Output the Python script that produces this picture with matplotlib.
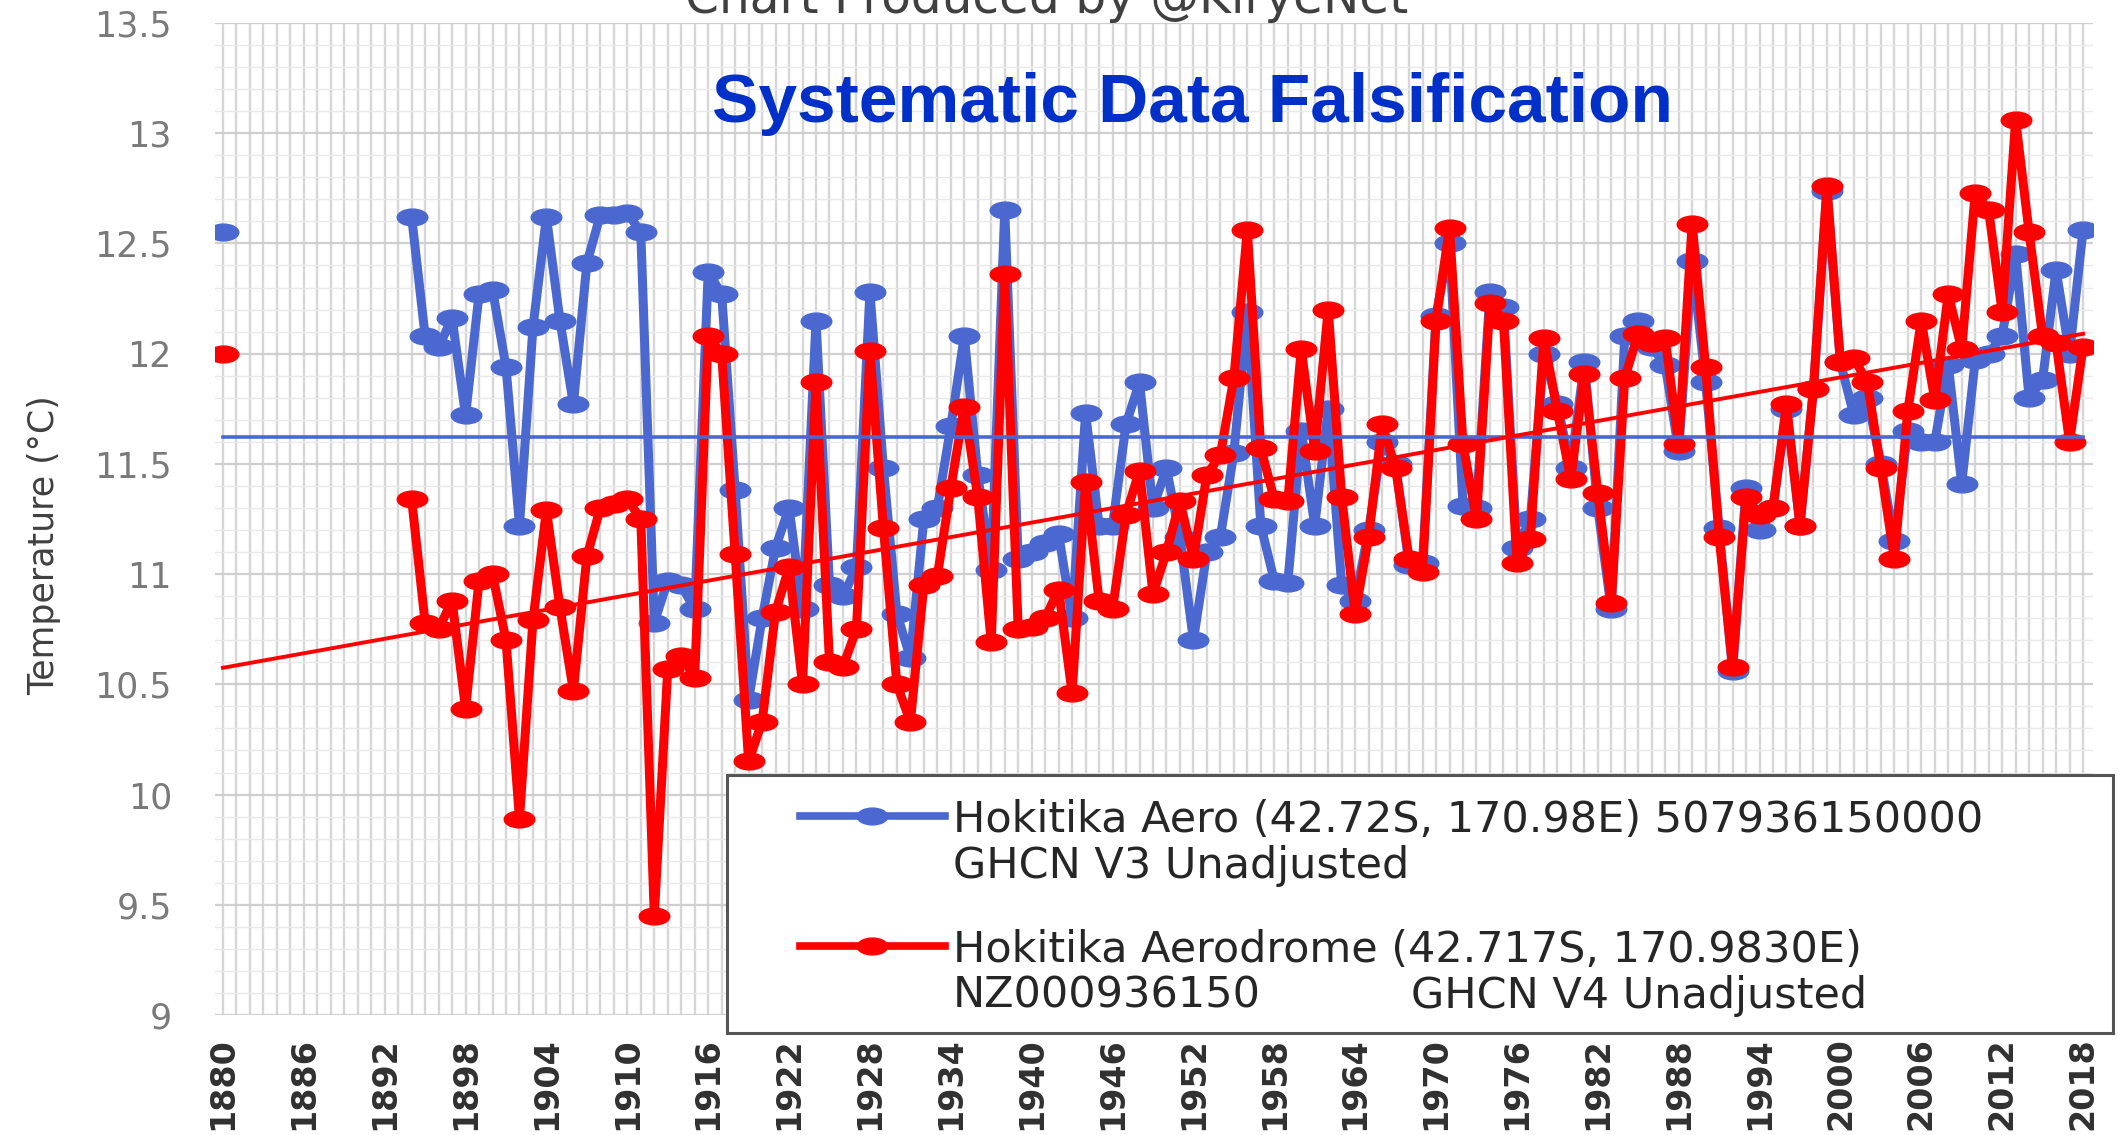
import numpy as np
import matplotlib
matplotlib.use("Agg")
import matplotlib.pyplot as plt
from matplotlib.path import Path
from matplotlib.transforms import Affine2D
from matplotlib.lines import Line2D
from matplotlib.patches import Rectangle
from matplotlib.ticker import FixedLocator, MultipleLocator

# ---------------- data ----------------
first_year = 1880
series_start = 1894
last_year = 2018

v3_1880 = 12.55
v4_1880 = 12.00

v3_values = [  # 1894-2018, GHCN V3 unadjusted
    12.62, 12.08, 12.03, 12.16, 11.72, 12.27, 12.29, 11.94, 11.22, 12.12,
    12.62, 12.15, 11.77, 12.41, 12.63, 12.63, 12.64, 12.55, 10.78, 10.97,
    10.95, 10.84, 12.37, 12.27, 11.38, 10.43, 10.80, 11.12, 11.30, 10.84,
    12.15, 10.95, 10.90, 11.03, 12.28, 11.48, 10.82, 10.62, 11.25, 11.30,
    11.67, 12.08, 11.45, 11.02, 12.65, 11.07, 11.10, 11.14, 11.18, 10.80,
    11.73, 11.22, 11.22, 11.68, 11.87, 11.30, 11.48, 11.17, 10.70, 11.10,
    11.17, 11.55, 12.19, 11.22, 10.97, 10.96, 11.65, 11.22, 11.75, 10.95,
    10.88, 11.20, 11.60, 11.50, 11.04, 11.05, 12.17, 12.50, 11.31, 11.30,
    12.28, 12.21, 11.12, 11.25, 12.00, 11.77, 11.48, 11.96, 11.30, 10.84,
    12.08, 12.15, 12.03, 11.95, 11.56, 12.42, 11.87, 11.21, 10.56, 11.39,
    11.20, 11.30, 11.75, 11.22, 11.84, 12.74, 11.96, 11.72, 11.80, 11.50,
    11.15, 11.65, 11.60, 11.60, 11.95, 11.41, 11.97, 12.00, 12.08, 12.45,
    11.80, 11.88, 12.38, 12.00, 12.56,
]

v4_values = [  # 1894-2018, GHCN V4 unadjusted
    11.34, 10.78, 10.75, 10.88, 10.39, 10.97, 11.00, 10.70, 9.89, 10.79,
    11.29, 10.85, 10.47, 11.08, 11.30, 11.32, 11.34, 11.25, 9.45, 10.57,
    10.63, 10.53, 12.08, 12.00, 11.09, 10.15, 10.33, 10.83, 11.03, 10.50,
    11.87, 10.60, 10.58, 10.75, 12.01, 11.21, 10.50, 10.33, 10.95, 10.99,
    11.39, 11.76, 11.35, 10.69, 12.36, 10.75, 10.76, 10.80, 10.93, 10.46,
    11.42, 10.88, 10.84, 11.27, 11.47, 10.91, 11.10, 11.33, 11.07, 11.45,
    11.54, 11.89, 12.56, 11.57, 11.34, 11.33, 12.02, 11.56, 12.20, 11.35,
    10.82, 11.17, 11.68, 11.48, 11.07, 11.01, 12.15, 12.57, 11.59, 11.25,
    12.23, 12.15, 11.05, 11.16, 12.07, 11.74, 11.43, 11.91, 11.37, 10.87,
    11.89, 12.09, 12.05, 12.07, 11.59, 12.59, 11.94, 11.17, 10.58, 11.35,
    11.27, 11.30, 11.77, 11.22, 11.84, 12.76, 11.96, 11.98, 11.87, 11.48,
    11.07, 11.74, 12.15, 11.79, 12.27, 12.02, 12.73, 12.65, 12.19, 13.06,
    12.55, 12.08, 12.05, 11.60, 12.03,
]

v3_mean = 11.62
v4_trend_ends = [10.575, 12.09]   # trend value at 1880 and 2018

x_tick_years = list(range(1880, 2019, 6))
y_tick_values = [9, 9.5, 10, 10.5, 11, 11.5, 12, 12.5, 13, 13.5]
y_tick_labels = ["9", "9.5", "10", "10.5", "11", "11.5", "12", "12.5", "13", "13.5"]

label_v3 = ["Hokitika Aero (42.72S, 170.98E) 507936150000", "GHCN V3 Unadjusted"]
label_v4 = ["Hokitika Aerodrome (42.717S, 170.9830E)", "NZ000936150", "GHCN V4 Unadjusted"]

# ---------------- build arrays ----------------
years = np.arange(first_year, last_year + 1)
gap = np.full(series_start - first_year - 1, np.nan)
v3 = np.concatenate([[v3_1880], gap, v3_values])
v4 = np.concatenate([[v4_1880], gap, v4_values])

BLUE = "#4a68d0"
RED = "#ff0000"

W, H = 2118, 1135
fig = plt.figure(figsize=(W / 100, H / 100), dpi=100)
fig.patch.set_facecolor("white")

ax_l, ax_r, ax_t, ax_b = 215, 2093, 23, 1015
ax = fig.add_axes([ax_l / W, 1 - ax_b / H, (ax_r - ax_l) / W, (ax_b - ax_t) / H])

ell = Path.unit_circle().transformed(Affine2D().scale(1.0, 0.55))

ax.plot(years, v3, color=BLUE, lw=6.5, marker=ell, ms=22, mfc=BLUE, mec=BLUE,
        solid_joinstyle="round", zorder=3)
ax.plot(years, v4, color=RED, lw=6.5, marker=ell, ms=22, mfc=RED, mec=RED,
        solid_joinstyle="round", zorder=4)
ax.plot([first_year, last_year], [v3_mean, v3_mean], color=BLUE, lw=2.6, zorder=5)
ax.plot([first_year, last_year], v4_trend_ends, color=RED, lw=2.8, zorder=5)

ax.set_xlim(1879.41, 2018.74)
ax.set_ylim(9, 13.5)

ax.xaxis.set_major_locator(FixedLocator(x_tick_years))
ax.xaxis.set_minor_locator(MultipleLocator(1))
ax.set_xticklabels([str(y) for y in x_tick_years], rotation=90,
                   fontsize=24, fontweight="bold", color="#303030",
                   family="DejaVu Sans")
ax.yaxis.set_major_locator(FixedLocator(y_tick_values))
ax.yaxis.set_minor_locator(MultipleLocator(0.1))
ax.set_yticklabels(y_tick_labels, fontsize=25, color="#7a7a7a", family="DejaVu Sans")
ax.tick_params(axis="both", which="both", length=0)
ax.tick_params(axis="y", pad=31)
ax.tick_params(axis="x", pad=16)

ax.xaxis.grid(True, which="both", color="#d6d6d6", lw=1.7)
ax.yaxis.grid(True, which="major", color="#cfcfcf", lw=1.6)
ax.yaxis.grid(True, which="minor", color="#e9e9e9", lw=1.0)
ax.set_axisbelow(True)
for s in ax.spines.values():
    s.set_visible(False)

# ---------------- texts ----------------
fig.text(1047 / W, 1 - 13 / H, "Chart Produced by @KiryeNet", ha="center",
         va="baseline", fontsize=35, color="#404040", family="DejaVu Sans")
fig.text(1192 / W, 1 - 122 / H, "Systematic Data Falsification", ha="center",
         va="baseline", fontsize=50, fontweight="bold", color="#0030c8",
         family="Liberation Sans")
fig.text(44 / W, 1 - 545 / H, "Temperature (°C)", rotation=90, ha="center",
         va="center", fontsize=25, color="#404040", family="DejaVu Sans")

# ---------------- legend ----------------
box = Rectangle((727 / W, 1 - 1033 / H), (2113 - 727) / W, (1033 - 775) / H,
                transform=fig.transFigure, facecolor="white", edgecolor="#555555",
                lw=2.2, zorder=10)
fig.add_artist(box)

def handle(yc, color):
    ln = Line2D([800 / W, 945 / W], [1 - yc / H, 1 - yc / H], color=color, lw=5.5,
                transform=fig.transFigure, zorder=11)
    fig.add_artist(ln)
    mk = Line2D([872 / W], [1 - yc / H], color=color, marker=ell, ms=22, lw=0,
                transform=fig.transFigure, zorder=12)
    fig.add_artist(mk)

handle(816, BLUE)
handle(946, RED)

lfs = 31
lkw = dict(va="baseline", ha="left", fontsize=lfs, color="#262626",
           family="DejaVu Sans", zorder=12)
fig.text(953 / W, 1 - 832 / H, label_v3[0], **lkw)
fig.text(953 / W, 1 - 878 / H, label_v3[1], **lkw)
fig.text(953 / W, 1 - 962 / H, label_v4[0], **lkw)
fig.text(953 / W, 1 - 1008 / H, label_v4[1], **lkw)
fig.text(1411 / W, 1 - 1008 / H, label_v4[2], **lkw)

fig.savefig("out.png", dpi=100, facecolor="white")
